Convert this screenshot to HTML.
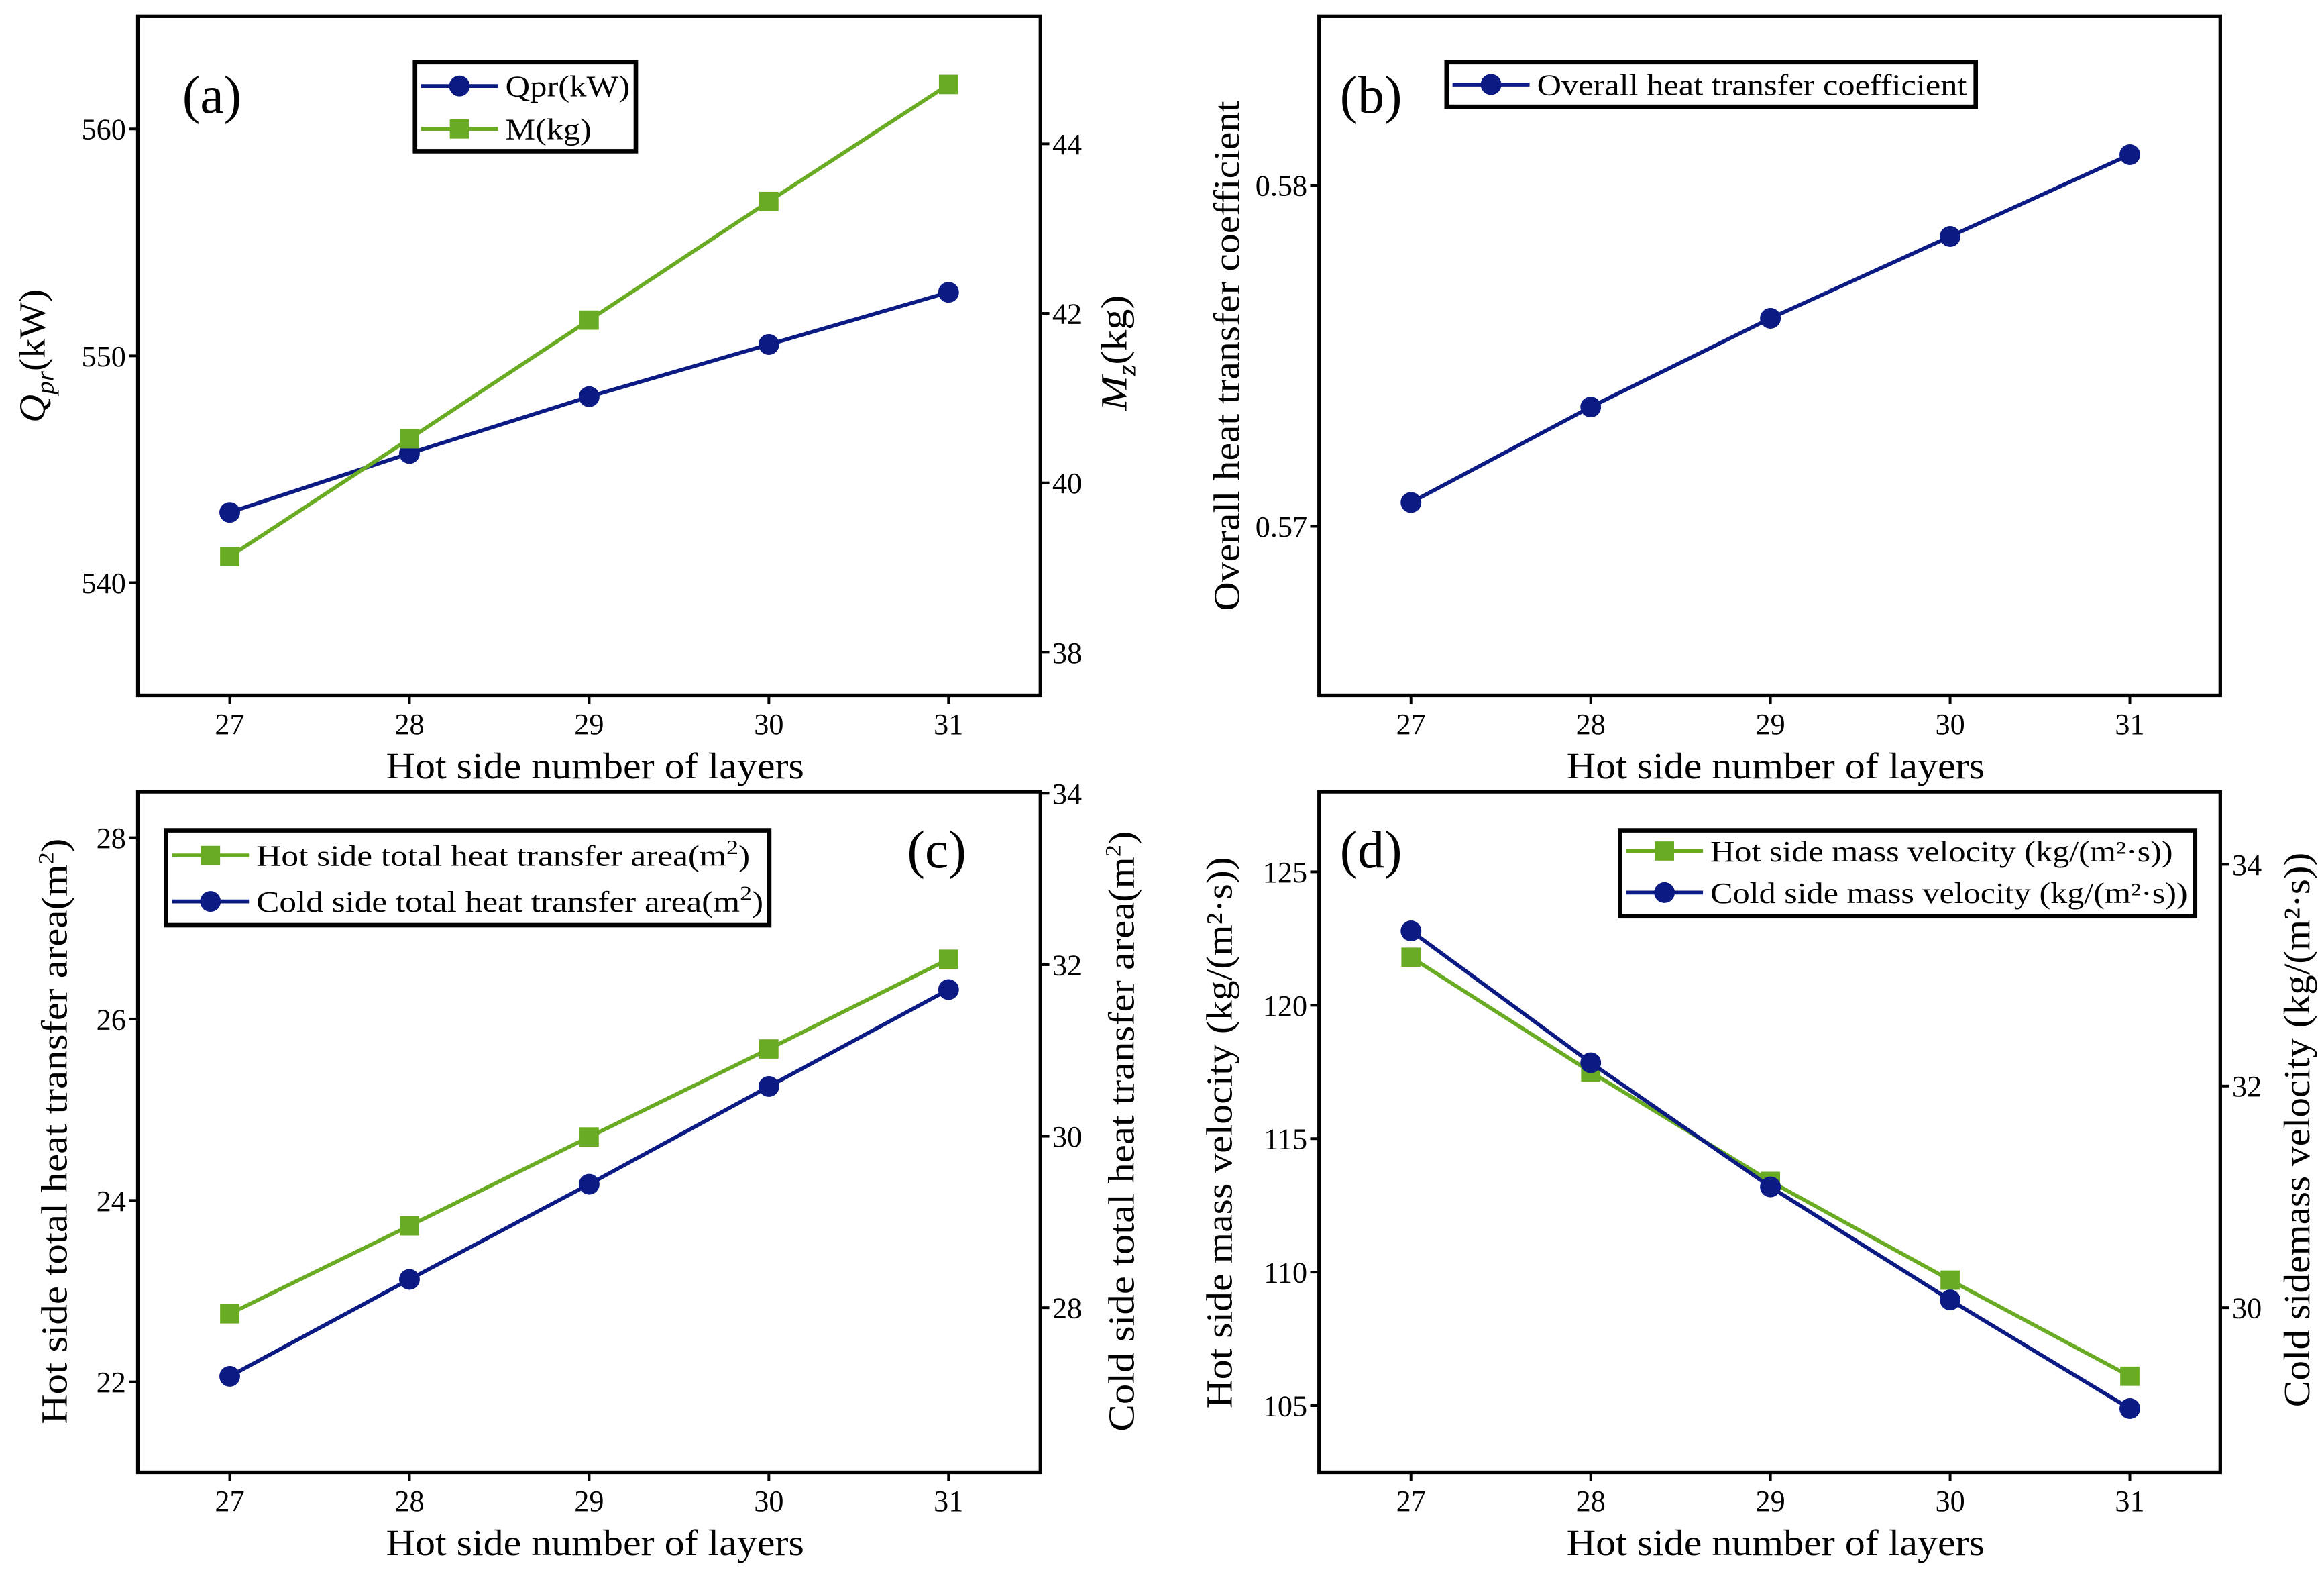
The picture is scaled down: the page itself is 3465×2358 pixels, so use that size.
<!DOCTYPE html>
<html><head><meta charset="utf-8"><style>
html,body{margin:0;padding:0;background:#fff;}
svg{display:block;font-family:"Liberation Serif",serif;}
</style></head><body>
<svg id="fig" width="3465" height="2358" viewBox="0 0 1568 1067" preserveAspectRatio="none" xmlns="http://www.w3.org/2000/svg"></svg>
<script>
const layers=[27,28,29,30,31];
const qprValues=[543.1,545.7,548.2,550.5,552.8];
const massValues=[39.13,40.52,41.92,43.32,44.7];
const uValues=[0.5707,0.5735,0.5761,0.5785,0.5809];
const hotAreaValues=[22.75,23.72,24.70,25.67,26.66];
const coldAreaValues=[27.20,28.33,29.44,30.58,31.71];
const hotVelValues=[121.8,117.5,113.4,109.7,106.1];
const coldVelValues=[33.40,32.21,31.09,30.07,29.09];
const ticksQ=[540,550,560], ticksM=[38,40,42,44], ticksU=[0.57,0.58];
const ticksHA=[22,24,26,28], ticksCA=[28,30,32,34];
const ticksHV=[105,110,115,120,125], ticksCV=[30,32,34];

const NS="http://www.w3.org/2000/svg";
const svg=document.getElementById('fig');
const BLUE="#0c1a84", GREEN="#6aab24";
function el(tag,attrs,parent){const e=document.createElementNS(NS,tag);for(const k in attrs)e.setAttribute(k,attrs[k]);(parent||svg).appendChild(e);return e;}
function txt(s,attrs,parent){const t=el('text',attrs,parent);t.textContent=s;return t;}
function lin(d0,d1,r0,r1){return v=>r0+(v-d0)*(r1-r0)/(d1-d0);}

function panel(cfg){
  const g=el('g',{});
  
  
  const {x0,x1,y0,y1}=cfg;
  const xs=lin(27,31,x0+62,x0+547);
  // axes box
  const box=el('rect',{x:x0,y:y0,width:x1-x0,height:y1-y0,fill:'none',stroke:'#000','stroke-width':2.4},g);
  
  layers.forEach(v=>{
    el('line',{x1:xs(v),x2:xs(v),y1:y1,y2:y1+6,stroke:'#000','stroke-width':1.8},g);
    const t=txt(String(v),{x:xs(v),y:y1+26,'font-size':20,'text-anchor':'middle'},g);
    
  });
  const xt=txt('Hot side number of layers',{x:(x0+x1)/2+4,y:y1+56,'font-size':25,'text-anchor':'middle',textLength:282,lengthAdjust:'spacingAndGlyphs'},g);
  
  const axes=[];
  cfg.axes.forEach(ax=>{
    const ys=lin(ax.d0,ax.d1,ax.r0,ax.r1);axes.push(ys);
    const xa=ax.side==='left'?x0:x1;
    ax.ticks.forEach(v=>{
      const y=ys(v);
      el('line',{x1:xa,x2:ax.side==='left'?xa-6:xa+6,y1:y,y2:y,stroke:'#000','stroke-width':1.8},g);
      const t=txt(ax.fmt?ax.fmt(v):String(v),{x:ax.side==='left'?xa-8:xa+8,y:y+7,'font-size':20,'text-anchor':ax.side==='left'?'end':'start'},g);
      
    });
    const tt=el('text',{transform:`translate(${ax.tx},${ax.ty}) rotate(-90)`,'font-size':25,'text-anchor':'middle',textLength:ax.tl,lengthAdjust:'spacingAndGlyphs'},g);
    tt.innerHTML=ax.title;
    
  });
  cfg.series.forEach(s=>{
    const ys=axes[s.axis];
    const pts=layers.map((v,i)=>[xs(v),ys(s.values[i])]);
    const pl=el('polyline',{points:pts.map(p=>p.join(',')).join(' '),fill:'none',stroke:s.color,'stroke-width':2.6},g);
    
    pts.forEach(p=>{
      let m;
      if(s.marker==='circle') m=el('circle',{cx:p[0],cy:p[1],r:7,fill:s.color},g);
      else m=el('rect',{x:p[0]-6.5,y:p[1]-6.5,width:13,height:13,fill:s.color},g);
      
    });
  });
  // legend
  const L=cfg.legend;
  const lg=el('g',{},g);
  
  el('rect',{x:L.x,y:L.y,width:L.w,height:L.h,fill:'#fff',stroke:'#000','stroke-width':3},lg);
  L.rows.forEach(r=>{
    const s=cfg.series[r.s];
    el('line',{x1:L.x+4,x2:L.x+56,y1:r.y,y2:r.y,stroke:s.color,'stroke-width':2.6},lg);
    const mx=L.x+30;
    if(s.marker==='circle') el('circle',{cx:mx,cy:r.y,r:7,fill:s.color},lg);
    else el('rect',{x:mx-6.5,y:r.y-6.5,width:13,height:13,fill:s.color},lg);
    const t=el('text',{x:L.x+61,y:r.y+7,'font-size':20,textLength:r.tl,lengthAdjust:'spacingAndGlyphs'},lg);
    t.innerHTML=r.text;
    
  });
  const pl=txt(cfg.label,{x:cfg.lx,y:cfg.ly,'font-size':36,'text-anchor':'middle'},g);
  
}

panel({name:'panel-a',x0:93,x1:702,y0:11,y1:469,label:'(a)',lx:143,ly:76,
  axes:[{side:'left',d0:540,d1:560,r0:393,r1:87,ticks:ticksQ,tx:30,ty:240,tl:90,title:'<tspan font-style="italic">Q</tspan><tspan font-style="italic" font-size="17" dy="6">pr</tspan><tspan dy="-6">(kW)</tspan>'},
        {side:'right',d0:38,d1:44,r0:440,r1:97,ticks:ticksM,tx:760,ty:238,tl:78,title:'<tspan font-style="italic">M</tspan><tspan font-style="italic" font-size="17" dy="6">z</tspan><tspan dy="-6">(kg)</tspan>'}],
  series:[{id:'qpr',values:qprValues,axis:0,color:BLUE,marker:'circle'},{id:'mass',values:massValues,axis:1,color:GREEN,marker:'square'}],
  legend:{x:280,y:42,w:149,h:60,rows:[{s:0,y:58,text:'Qpr(kW)',tl:84},{s:1,y:87,text:'M(kg)',tl:58}]}});

panel({name:'panel-b',x0:890,x1:1498,y0:11,y1:469,label:'(b)',lx:925,ly:76,
  axes:[{side:'left',d0:0.57,d1:0.58,r0:355,r1:125,ticks:ticksU,fmt:v=>v.toFixed(2),tx:836,ty:240,tl:344,title:'Overall heat transfer coefficient'}],
  series:[{id:'heat-transfer-coefficient',values:uValues,axis:0,color:BLUE,marker:'circle'}],
  legend:{x:976,y:42,w:357,h:30,rows:[{s:0,y:57,text:'Overall heat transfer coefficient',tl:290}]}});

panel({name:'panel-c',x0:93,x1:702,y0:534,y1:993,label:'(c)',lx:632,ly:585,
  axes:[{side:'left',d0:22,d1:28,r0:932,r1:565,ticks:ticksHA,tx:45,ty:763,tl:395,title:'Hot side total  heat transfer area(m<tspan font-size="15" dy="-9">2</tspan><tspan dy="9">)</tspan>'},
        {side:'right',d0:28,d1:34,r0:882,r1:535,ticks:ticksCA,tx:765,ty:763,tl:405,title:'Cold side total  heat transfer area(m<tspan font-size="15" dy="-9">2</tspan><tspan dy="9">)</tspan>'}],
  series:[{id:'hot-area',values:hotAreaValues,axis:0,color:GREEN,marker:'square'},{id:'cold-area',values:coldAreaValues,axis:1,color:BLUE,marker:'circle'}],
  legend:{x:112,y:560,w:407,h:64,rows:[{s:0,y:577,text:'Hot side total  heat transfer area(m<tspan font-size="14" dy="-8">2</tspan><tspan dy="8">)</tspan>',tl:333},{s:1,y:608,text:'Cold side total  heat transfer area(m<tspan font-size="14" dy="-8">2</tspan><tspan dy="8">)</tspan>',tl:342}]}});

panel({name:'panel-d',x0:890,x1:1498,y0:534,y1:993,label:'(d)',lx:925,ly:585,
  axes:[{side:'left',d0:105,d1:125,r0:948,r1:588,ticks:ticksHV,tx:831,ty:764,tl:372,title:'Hot side mass velocity (kg/(m²·s))'},
        {side:'right',d0:30,d1:34,r0:882,r1:583,ticks:ticksCV,tx:1558,ty:762,tl:374,title:'Cold sidemass velocity (kg/(m²·s))'}],
  series:[{id:'hot-velocity',values:hotVelValues,axis:0,color:GREEN,marker:'square'},{id:'cold-velocity',values:coldVelValues,axis:1,color:BLUE,marker:'circle'}],
  legend:{x:1093,y:560,w:388,h:58,rows:[{s:0,y:574,text:'Hot side mass velocity (kg/(m²·s))',tl:312},{s:1,y:602,text:'Cold side mass velocity (kg/(m²·s))',tl:322}]}});
</script>
</body></html>
